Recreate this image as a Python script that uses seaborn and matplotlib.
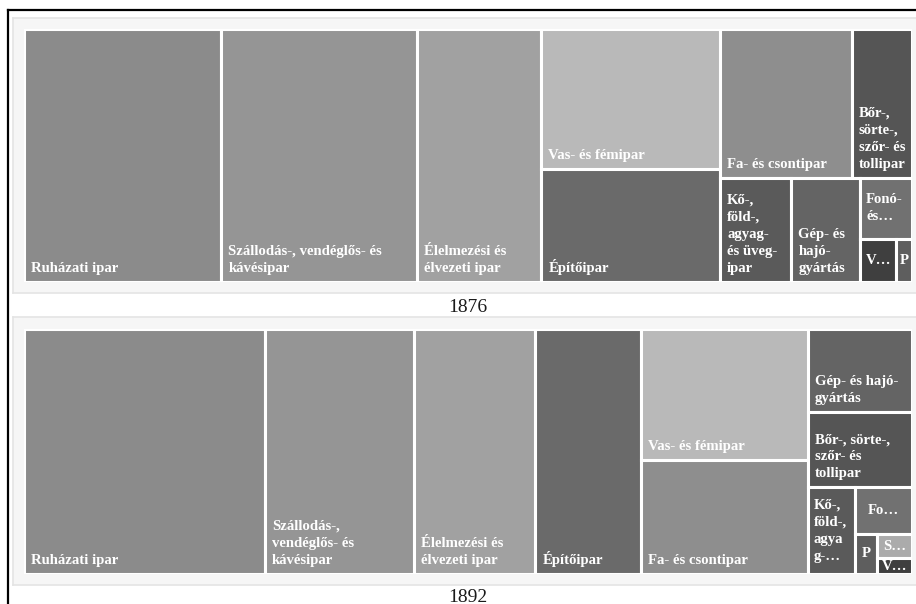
import matplotlib
matplotlib.use("Agg")
import matplotlib.pyplot as plt
import seaborn as sns
from matplotlib.patches import Rectangle

# industries, values (share of workers, %) and the wrapped labels as shown
industries_1876 = ["Ruházati ipar", "Szállodás-, vendéglős- és kávésipar",
                   "Élelmezési és élvezeti ipar", "Vas- és fémipar", "Építőipar",
                   "Fa- és csontipar", "Bőr-, sörte-, szőr- és tollipar",
                   "Kő-, föld-, agyag- és üvegipar", "Gép- és hajógyártás",
                   "Fonó- és szövőipar", "Vegyipar", "Papíripar"]
values_1876 = [22.2, 22.0, 14.0, 11.1, 9.0, 8.7, 4.0, 3.3, 3.2, 1.4, 0.7, 0.3]
labels_1876 = ["Ruházati ipar", "Szállodás-, vendéglős- és\nkávésipar",
               "Élelmezési és\nélvezeti ipar", "Vas- és fémipar", "Építőipar",
               "Fa- és csontipar", "Bőr-,\nsörte-,\nszőr- és\ntollipar",
               "Kő-,\nföld-,\nagyag-\nés üveg-\nipar", "Gép- és\nhajó-\ngyártás",
               "Fonó-\nés…", "V…", "P"]
rows_1876 = [1, 1, 1, 2, 2, 1, 1, 1, 1, 1]

industries_1892 = ["Ruházati ipar", "Szállodás-, vendéglős- és kávésipar",
                   "Élelmezési és élvezeti ipar", "Építőipar", "Vas- és fémipar",
                   "Fa- és csontipar", "Gép- és hajógyártás",
                   "Bőr-, sörte-, szőr- és tollipar", "Kő-, föld-, agyag- és üvegipar",
                   "Fonó- és szövőipar", "Papíripar", "Sokszorosító ipar", "Vegyipar"]
values_1892 = [27.1, 16.7, 13.7, 11.9, 10.0, 8.7, 4.0, 3.6, 1.9, 1.2, 0.4, 0.4, 0.25]
labels_1892 = ["Ruházati ipar", "Szállodás-,\nvendéglős- és\nkávésipar",
               "Élelmezési és\nélvezeti ipar", "Építőipar", "Vas- és fémipar",
               "Fa- és csontipar", "Gép- és hajó-\ngyártás",
               "Bőr-, sörte-,\nszőr- és\ntollipar", "Kő-,\nföld-,\nagya\ng-…",
               "Fo…", "P", "S…", "V…"]
rows_1892 = [1, 1, 1, 1, 2, 1, 1, 1, 1, 1, 1, 1]

colors = {
    "Ruházati ipar": "#8b8b8b",
    "Szállodás-, vendéglős- és kávésipar": "#959595",
    "Élelmezési és élvezeti ipar": "#a1a1a1",
    "Vas- és fémipar": "#b9b9b9",
    "Építőipar": "#6a6a6a",
    "Fa- és csontipar": "#8e8e8e",
    "Bőr-, sörte-, szőr- és tollipar": "#555555",
    "Kő-, föld-, agyag- és üvegipar": "#5a5a5a",
    "Gép- és hajógyártás": "#646464",
    "Fonó- és szövőipar": "#717171",
    "Vegyipar": "#3f3f3f",
    "Papíripar": "#5e5e5e",
    "Sokszorosító ipar": "#ababab",
}

sns.set_theme(style="white")
plt.rcParams["font.family"] = ["Liberation Serif", "DejaVu Serif"]

FW, FH = 916, 604


def layout(values, rows, width, height):
    # strips are laid along the shorter side of the space that is left
    scale = width * height / sum(values)
    x, y, w, h = 0.0, 0.0, float(width), float(height)
    rects = []
    i = 0
    for n in rows:
        chunk = values[i:i + n]
        area = sum(chunk) * scale
        if w >= h:
            cw = area / h
            yy = y
            for v in chunk:
                ch = v * scale / cw
                rects.append((x, yy, cw, ch))
                yy += ch
            x += cw
            w -= cw
        else:
            rh = area / w
            xx = x
            for v in chunk:
                rw = v * scale / rh
                rects.append((xx, y, rw, rh))
                xx += rw
            y += rh
            h -= rh
        i += n
    return rects


def px_axes(fig, x0, y0, x1, y1):
    return fig.add_axes([x0 / FW, 1 - y1 / FH, (x1 - x0) / FW, (y1 - y0) / FH])


def treemap(fig, panel, box, year, ypos, industries, values, labels, rows):
    pa = px_axes(fig, *panel)
    pa.set_facecolor("#f6f6f6")
    pa.set(xticks=[], yticks=[])
    for s in pa.spines.values():
        s.set_color("#e4e4e4")
        s.set_linewidth(1.2)

    ax = px_axes(fig, *box)
    W, H = box[2] - box[0], box[3] - box[1]
    ax.set_xlim(0, W)
    ax.set_ylim(H, 0)
    ax.axis("off")
    for (x, y, w, h), ind, lab in zip(layout(values, rows, W, H), industries, labels):
        r = Rectangle((x, y), w, h, facecolor=colors[ind], edgecolor="white", linewidth=2.2)
        ax.add_patch(r)
        short = lab.endswith("…") or len(lab) <= 2
        if short and "\n" not in lab:
            t = ax.text(x + w / 2, y + h / 2, lab, ha="center", va="center")
        elif short:
            t = ax.text(x + 6, y + h / 2, lab, ha="left", va="center")
        else:
            t = ax.text(x + 7, y + h - 7, lab, ha="left", va="bottom")
        t.set(color="white", fontsize=10.6, fontweight="bold", linespacing=1.4)
        t.set_clip_path(r)

    fig.text(468 / FW, 1 - ypos / FH, year, ha="center", va="center",
             fontsize=14, color="#1a1a1a")


fig = plt.figure(figsize=(FW / 100, FH / 100), dpi=100)

# outer frame: only the top and left edges are visible
frame = fig.add_axes([8 / FW, 0, 1, 1 - 10 / FH])
frame.set(xticks=[], yticks=[])
frame.patch.set_alpha(0)
for side in ["right", "bottom"]:
    frame.spines[side].set_visible(False)
for side in ["top", "left"]:
    frame.spines[side].set_color("black")
    frame.spines[side].set_linewidth(1.6)

treemap(fig, (13, 18, 918, 293), (24, 29, 912, 282), "1876", 307,
        industries_1876, values_1876, labels_1876, rows_1876)
treemap(fig, (13, 317, 918, 585), (24, 329, 912, 574), "1892", 597,
        industries_1892, values_1892, labels_1892, rows_1892)

fig.savefig("out.png", dpi=100)
